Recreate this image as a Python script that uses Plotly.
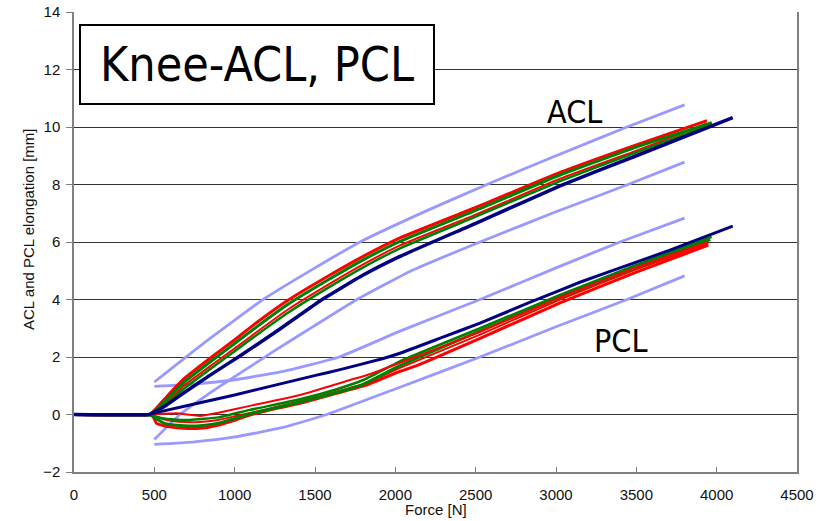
import plotly.graph_objects as go

# ---------------- data ----------------
# light-blue band limits
acl_up_x = [500, 800, 1177, 1500, 1780, 2200, 2570, 3000, 3442, 3800]
acl_up_y = [1.13, 2.45, 4.0, 5.1, 6.0, 7.1, 8.0, 9.0, 10.0, 10.77]
acl_lo_x = [500, 660, 900, 1230, 1500, 1761, 2100, 2527, 3000, 3448, 3800]
acl_lo_y = [-0.87, 0.0, 0.95, 2.15, 3.1, 4.0, 5.0, 6.0, 7.05, 8.0, 8.78]
pcl_up_x = [500, 750, 992, 1300, 1650, 2029, 2527, 3000, 3398, 3800]
pcl_up_y = [0.98, 1.06, 1.2, 1.5, 2.0, 2.9, 4.0, 5.1, 6.0, 6.83]
pcl_lo_x = [500, 750, 992, 1300, 1573, 2029, 2527, 3000, 3442, 3800]
pcl_lo_y = [-1.04, -0.95, -0.79, -0.45, 0.0, 0.95, 2.0, 3.05, 4.0, 4.82]

# ACL measured loops
acl_x = [0, 470, 490, 577, 680, 857, 1000, 1150, 1334, 1593, 1800, 2029, 2500, 3025, 3500, 3940]
acl_red_top = [0, 0, 0.08, 0.62, 1.22, 2.0, 2.6, 3.25, 3.98, 4.85, 5.5, 6.14, 7.2, 8.42, 9.38, 10.22]
acl_red_in = [0, 0, 0.06, 0.42, 0.98, 1.72, 2.3, 2.92, 3.66, 4.55, 5.22, 5.88, 6.95, 8.2, 9.18, 10.12]
acl_grn_x = [0, 470, 490, 577, 680, 857, 1000, 1150, 1334, 1593, 1800, 2029, 2500, 3025, 3500, 3970]
acl_grn_top = [0, 0, 0.07, 0.52, 1.1, 1.87, 2.47, 3.1, 3.84, 4.72, 5.38, 6.02, 7.1, 8.33, 9.3, 10.15]
acl_grn_low = [0, 0, 0.05, 0.38, 0.88, 1.62, 2.2, 2.82, 3.55, 4.45, 5.12, 5.78, 6.88, 8.12, 9.12, 10.1]
acl_nav_x = [0, 470, 490, 577, 680, 850, 1023, 1250, 1531, 1800, 2029, 2500, 3025, 3500, 4100]
acl_nav_y = [0, 0, 0.05, 0.33, 0.74, 1.38, 2.0, 2.85, 3.95, 4.85, 5.5, 6.65, 7.95, 9.0, 10.33]

# PCL measured loops
pcl_nav_x = [0, 470, 490, 1000, 1510, 1656, 1925, 2029, 2300, 2527, 2859, 3149, 3500, 3709, 4100]
pcl_nav_y = [0, 0, 0.04, 0.68, 1.37, 1.56, 1.95, 2.13, 2.7, 3.18, 3.95, 4.6, 5.3, 5.72, 6.55]
pcl_red_lo_x = [470, 490, 514, 560, 597, 680, 784, 888, 1000, 1095, 1250, 1406, 1635, 1821, 2029, 2133, 2527, 3025, 3500, 3948]
pcl_red_lo_y = [0, -0.05, -0.31, -0.39, -0.43, -0.48, -0.48, -0.38, -0.2, -0.02, 0.2, 0.39, 0.74, 1.02, 1.5, 1.7, 2.65, 3.88, 4.95, 5.89]
pcl_red_mid_x = [470, 520, 580, 650, 784, 888, 1000, 1200, 1406, 1635, 1821, 2029, 2527, 3025, 3500, 3948]
pcl_red_mid_y = [0, -0.1, -0.2, -0.25, -0.26, -0.2, -0.06, 0.18, 0.46, 0.8, 1.1, 1.62, 2.78, 4.0, 5.05, 5.95]
pcl_red_up_x = [470, 639, 784, 900, 1095, 1406, 1718, 1850, 2029, 2527, 3025, 3500, 3948]
pcl_red_up_y = [0, 0.04, -0.05, 0.06, 0.3, 0.68, 1.2, 1.42, 1.8, 2.88, 4.08, 5.12, 6.0]
pcl_grn_up_x = [470, 540, 640, 722, 900, 1095, 1400, 1635, 1800, 2029, 2527, 3025, 3500, 3969]
pcl_grn_up_y = [0, -0.12, -0.18, -0.19, -0.1, 0.16, 0.52, 0.88, 1.2, 1.85, 3.0, 4.16, 5.2, 6.18]
pcl_grn_lo_x = [470, 560, 640, 722, 800, 900, 1095, 1400, 1635, 1800, 2029, 2527, 3025, 3500, 3960]
pcl_grn_lo_y = [0, -0.3, -0.37, -0.4, -0.38, -0.3, 0.02, 0.42, 0.76, 1.05, 1.7, 2.9, 4.08, 5.12, 6.08]

x_ticks = [0, 500, 1000, 1500, 2000, 2500, 3000, 3500, 4000, 4500]
y_ticks = [-2, 0, 2, 4, 6, 8, 10, 12, 14]

BLUE = "#9999FF"
RED = "#FF0000"
GREEN = "#008000"
NAVY = "#000080"

fig = go.Figure()

def add(x, y, color, width):
    fig.add_trace(go.Scatter(x=x, y=y, mode="lines", line=dict(color=color, width=width, shape="spline", smoothing=0.4),
                             showlegend=False, hoverinfo="skip"))

for bx, by in [(acl_up_x, acl_up_y), (acl_lo_x, acl_lo_y), (pcl_up_x, pcl_up_y), (pcl_lo_x, pcl_lo_y)]:
    add(bx, by, BLUE, 2.8)

# ACL
add(acl_x, acl_red_top, RED, 3)
add(acl_x, acl_red_in, RED, 2)
add(acl_grn_x, acl_grn_top, GREEN, 3)
add(acl_grn_x, acl_grn_low, GREEN, 2.5)
add(acl_nav_x, acl_nav_y, NAVY, 3.5)

# PCL
add(pcl_red_lo_x, pcl_red_lo_y, RED, 3)
add(pcl_red_mid_x, pcl_red_mid_y, RED, 2)
add(pcl_grn_lo_x, pcl_grn_lo_y, GREEN, 3)
add(pcl_grn_up_x, pcl_grn_up_y, GREEN, 2.5)
add(pcl_red_up_x, pcl_red_up_y, RED, 2)
add(pcl_nav_x, pcl_nav_y, NAVY, 3)

TICKFONT = dict(family="Liberation Sans, Arial, sans-serif", size=15, color="#111")

fig.update_layout(
    width=830, height=521,
    margin=dict(l=74, r=33, t=12, b=49),
    paper_bgcolor="white", plot_bgcolor="white",
    xaxis=dict(range=[0, 4500], tickvals=x_ticks, ticks="inside", ticklen=5, tickcolor="#808080",
               showgrid=False, zeroline=False, showline=True, linecolor="#808080", linewidth=1.5,
               mirror=False, tickfont=TICKFONT, ticklabelstandoff=8, automargin=False),
    yaxis=dict(range=[-2, 14], tickvals=y_ticks, ticks="outside", ticklen=6, tickcolor="#808080",
               showgrid=True, gridcolor="#333333", gridwidth=1, zeroline=False,
               showline=True, linecolor="#808080", linewidth=1.5, mirror=True,
               tickfont=TICKFONT, ticklabelstandoff=3, automargin=False),
    font=TICKFONT,
)

LABELFONT = "DejaVu Sans Condensed, DejaVu Sans, sans-serif"

fig.add_shape(type="rect", xref="paper", yref="paper",
              x0=(80 - 74) / 723, x1=(434 - 74) / 723, y0=(472 - 104) / 460, y1=(472 - 25) / 460,
              line=dict(color="black", width=2), fillcolor="white", layer="above")
fig.add_annotation(x=(257 - 74) / 723, y=(472 - 64) / 460, xref="paper", yref="paper",
                   text="Knee-ACL, PCL", showarrow=False, xanchor="center", yanchor="middle",
                   font=dict(family=LABELFONT, size=48, color="black"))
fig.add_annotation(x=3118, y=10.52, text="ACL", showarrow=False, xanchor="center", yanchor="middle",
                   font=dict(family=LABELFONT, size=32, color="black"))
fig.add_annotation(x=3405, y=2.56, text="PCL", showarrow=False, xanchor="center", yanchor="middle",
                   font=dict(family=LABELFONT, size=32, color="black"))
fig.add_annotation(x=(436 - 74) / 723, y=(472 - 509) / 460, xref="paper", yref="paper",
                   text="Force [N]", showarrow=False, xanchor="center", yanchor="middle",
                   font=dict(family="Liberation Sans, Arial, sans-serif", size=15, color="#111"))
fig.add_annotation(x=(28 - 74) / 723, y=(472 - 229) / 460, xref="paper", yref="paper",
                   text="ACL and PCL elongation [mm]", showarrow=False, textangle=-90,
                   xanchor="center", yanchor="middle",
                   font=dict(family="Liberation Sans, Arial, sans-serif", size=15, color="#111"))

fig.write_html("out.html", config={"displayModeBar": False},
               post_script="document.body.style.margin='0';document.body.style.overflow='hidden';")
